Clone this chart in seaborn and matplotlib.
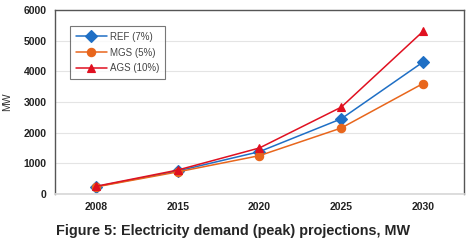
import pandas as pd
import seaborn as sns
import matplotlib.pyplot as plt

sns.set_theme(style="white")
plt.rcParams['font.family'] = ['Liberation Sans', 'DejaVu Sans']

# Peak demand projections (MW)
years = ["2008", "2015", "2020", "2025", "2030"]
ref = [240, 750, 1380, 2450, 4300]
mgs = [230, 720, 1250, 2150, 3600]
ags = [250, 780, 1500, 2830, 5300]
scenarios = ["REF (7%)", "MGS (5%)", "AGS (10%)"]

df = pd.DataFrame({
    "year": years * 3,
    "MW": ref + mgs + ags,
    "scenario": [s for s in scenarios for _ in years],
})

fig = plt.figure(figsize=(4.68, 2.47), dpi=100)
ax = fig.add_axes([0.1175, 0.2146, 0.8735, 0.7449])

palette = {"REF (7%)": "#1f6fc5", "MGS (5%)": "#e8661c", "AGS (10%)": "#e01020"}
sns.pointplot(
    data=df, x="year", y="MW", hue="scenario", hue_order=scenarios,
    palette=palette, markers=["D", "o", "^"], linestyles="-",
    markersize=6, linewidth=1.1, ax=ax,
)

ax.set_ylim(0, 6000)
ax.set_yticks(range(0, 6001, 1000))
ax.set_xlim(-0.5, 4.5)
ax.set_xlabel("")
ax.set_ylabel("MW", fontsize=7.5, color="#333333")
ax.yaxis.set_label_coords(-0.105, 0.5)
ax.grid(axis="y", color="#e4e4e4", linewidth=0.8)
ax.set_axisbelow(True)
ax.tick_params(axis="both", labelsize=7.5, colors="#222222", length=0, pad=6)
for lab in ax.get_xticklabels() + ax.get_yticklabels():
    lab.set_fontweight("bold")

for side in ["left", "top", "right"]:
    ax.spines[side].set_color("#555555")
    ax.spines[side].set_linewidth(1.0)
ax.spines["bottom"].set_color("#d8d8d8")

leg = ax.legend(
    loc="upper left", bbox_to_anchor=(0.025, 0.94), fontsize=7,
    frameon=True, fancybox=False, edgecolor="#555555",
    handlelength=3.2, labelspacing=0.6, borderpad=0.6, handletextpad=0.3,
)
leg.get_frame().set_linewidth(0.8)
for t in leg.get_texts():
    t.set_color("#444444")

fig.text(0.499, 0.035, "Figure 5: Electricity demand (peak) projections, MW",
         ha="center", va="bottom", fontsize=10.4, fontweight="bold")

fig.savefig("out.png", dpi=100)
